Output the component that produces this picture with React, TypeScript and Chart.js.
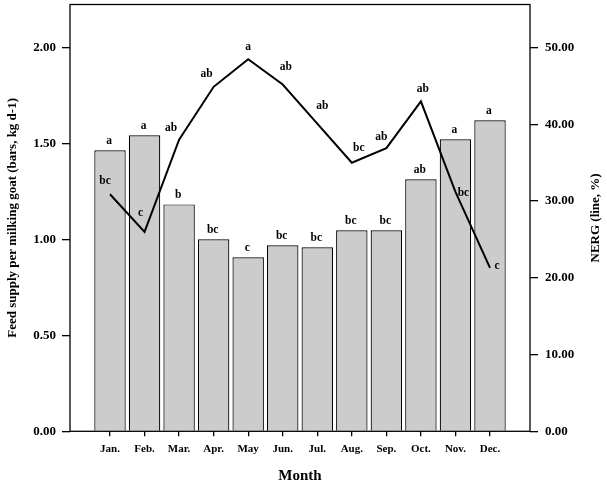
import React, { useEffect, useRef } from "react";
import { Chart, registerables } from "chart.js";

Chart.register(...registerables);

const months = ["Jan.", "Feb.", "Mar.", "Apr.", "May", "Jun.", "Jul.", "Aug.", "Sep.", "Oct.", "Nov.", "Dec."];
const feedSupply = [1.465, 1.543, 1.183, 1.001, 0.907, 0.97, 0.959, 1.048, 1.048, 1.314, 1.522, 1.621];
const nergValues = [30.9, 26.0, 38.0, 44.9, 48.5, 45.2, 40.1, 35.0, 36.9, 43.0, 31.2, 21.3];
const barLetters = ["a", "a", "b", "bc", "c", "bc", "bc", "bc", "bc", "ab", "a", "a"];
const lineLetters = ["bc", "c", "ab", "ab", "a", "ab", "ab", "bc", "ab", "ab", "bc", "c"];
const leftTickValues = [0, 0.5, 1.0, 1.5, 2.0];
const rightTickValues = [0, 10, 20, 30, 40, 50];

// label placement relative to line points (pixels)
const lineLabelOffsets = [
  [-5, -13], [-4, -19], [-8, -12], [-7, -13], [0, -12], [3, -17],
  [5, -18], [7, -15], [-5, -11], [2, -12], [8, 1], [7, -2],
];

const FONT = "'Liberation Serif', 'Times New Roman', serif";

const overlayPlugin = {
  id: "overlay",
  afterDatasetsDraw(chart: any) {
    const { ctx, chartArea } = chart;
    ctx.save();
    // frame
    ctx.strokeStyle = "#000";
    ctx.lineWidth = 1.3;
    ctx.strokeRect(chartArea.left, chartArea.top, chartArea.right - chartArea.left, chartArea.bottom - chartArea.top);

    ctx.fillStyle = "#000";
    ctx.font = `bold 11.5px ${FONT}`;
    ctx.textAlign = "center";
    ctx.textBaseline = "middle";
    // bar letters
    const barMeta = chart.getDatasetMeta(0);
    barMeta.data.forEach((el: any, i: number) => {
      ctx.fillText(barLetters[i], el.x - 1, el.y - 9);
    });
    // line letters
    const lineMeta = chart.getDatasetMeta(1);
    lineMeta.data.forEach((el: any, i: number) => {
      const [dx, dy] = lineLabelOffsets[i];
      ctx.fillText(lineLetters[i], el.x + dx, el.y + dy);
    });

    // axis titles
    const midY = (chartArea.top + chartArea.bottom) / 2;
    ctx.font = `bold 13px ${FONT}`;
    ctx.save();
    ctx.translate(13, midY);
    ctx.rotate(-Math.PI / 2);
    ctx.fillText("Feed supply per milking goat (bars, kg d-1)", 0, 0);
    ctx.restore();
    ctx.save();
    ctx.translate(596, midY);
    ctx.rotate(-Math.PI / 2);
    ctx.fillText("NERG (line, %)", 0, 0);
    ctx.restore();

    ctx.font = `bold 15px ${FONT}`;
    ctx.fillText("Month", (chartArea.left + chartArea.right) / 2, 476);
    ctx.restore();
  },
};

const zeroPad = (scale: any) => {
  scale.paddingTop = 0;
  scale.paddingBottom = 0;
  scale.paddingLeft = 0;
  scale.paddingRight = 0;
};

export default function App() {
  const canvasRef = useRef<HTMLCanvasElement | null>(null);

  useEffect(() => {
    if (!canvasRef.current) return;
    Chart.defaults.font.family = FONT;
    Chart.defaults.color = "#000";
    const chart = new Chart(canvasRef.current, {
      type: "bar",
      data: {
        datasets: [
          {
            type: "bar",
            label: "Feed supply",
            data: feedSupply.map((v, i) => ({ x: i + 1, y: v })),
            backgroundColor: "#cccccc",
            borderColor: "#000",
            borderWidth: 1.2,
            barPercentage: 0.91,
            categoryPercentage: 1,
            yAxisID: "y",
            order: 2,
          } as any,
          {
            type: "line",
            label: "NERG",
            data: nergValues.map((v, i) => ({ x: i + 1, y: v })),
            borderColor: "#000",
            borderWidth: 2,
            pointRadius: 0,
            tension: 0,
            fill: false,
            yAxisID: "y1",
            order: 1,
          } as any,
        ],
      },
      options: {
        animation: false,
        responsive: true,
        maintainAspectRatio: false,
        layout: { padding: { top: 4.5, left: 0, right: 0, bottom: 0 } },
        plugins: { legend: { display: false }, tooltip: { enabled: false } },
        scales: {
          x: {
            type: "linear",
            min: -0.158,
            max: 13.158,
            offset: false,
            border: { display: false },
            grid: { offset: false, drawOnChartArea: false, drawTicks: true, tickLength: 5, color: "#000", lineWidth: 1.3 },
            ticks: {
              font: { size: 11, weight: "bold" },
              padding: 6,
              maxRotation: 0,
              autoSkip: false,
              callback: (v: any) => months[Number(v) - 1] ?? "",
            },
            afterBuildTicks: (scale: any) => {
              scale.ticks = months.map((_, i) => ({ value: i + 1 }));
            },
            afterFit: (scale: any) => {
              scale.height = 57.7;
              zeroPad(scale);
            },
          } as any,
          y: {
            type: "linear",
            position: "left",
            min: 0,
            max: 2.225,
            border: { display: false },
            grid: { drawOnChartArea: false, drawTicks: true, tickLength: 8, color: "#000", lineWidth: 1.3 },
            ticks: {
              font: { size: 13, weight: "bold" },
              padding: 6,
              callback: (v: any) => Number(v).toFixed(2),
            },
            afterBuildTicks: (scale: any) => {
              scale.ticks = leftTickValues.map((v) => ({ value: v }));
            },
            afterFit: (scale: any) => {
              scale.width = 70;
              zeroPad(scale);
            },
          } as any,
          y1: {
            type: "linear",
            position: "right",
            min: 0,
            max: 55.63,
            border: { display: false },
            grid: { drawOnChartArea: false, drawTicks: true, tickLength: 8, color: "#000", lineWidth: 1.3 },
            ticks: {
              font: { size: 13, weight: "bold" },
              padding: 7,
              callback: (v: any) => Number(v).toFixed(2),
            },
            afterBuildTicks: (scale: any) => {
              scale.ticks = rightTickValues.map((v) => ({ value: v }));
            },
            afterFit: (scale: any) => {
              scale.width = 77;
              zeroPad(scale);
            },
          } as any,
        },
      },
      plugins: [overlayPlugin],
    });
    return () => chart.destroy();
  }, []);

  return (
    <div style={{ position: "fixed", left: 0, top: 0, width: 607, height: 489, background: "#fff" }}>
      <canvas ref={canvasRef} />
    </div>
  );
}
